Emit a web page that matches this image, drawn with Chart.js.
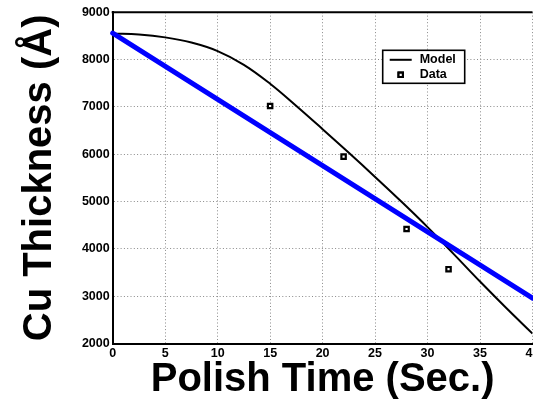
<!DOCTYPE html>
<html>
<head>
<meta charset="utf-8">
<script src="https://cdn.jsdelivr.net/npm/chart.js@4/dist/chart.umd.min.js"></script>
<style>
  html, body { margin: 0; padding: 0; background: #fff; overflow: hidden; }
  #wrap { width: 533px; height: 404px; overflow: hidden; position: relative; }
  canvas { display: block; }
</style>
</head>
<body>
<div id="wrap"><canvas id="chart" width="560" height="404"></canvas></div>
<script>
// Axis ticks
const xTicks = [0, 5, 10, 15, 20, 25, 30, 35, 40];
const yTicks = [2000, 3000, 4000, 5000, 6000, 7000, 8000, 9000];

// Model curve: Cu thickness (Å) vs polish time (s)
const modelTime = [0, 2.5, 5, 7.5, 10, 12.5, 15, 17.5, 20, 22.5, 25, 27.5, 30, 32.5, 35, 37.5, 40];
const modelThickness = [8550, 8530, 8470, 8360, 8180, 7890, 7490, 7020, 6530, 6030, 5520, 5000, 4460, 3890, 3310, 2750, 2210];

// Measured points
const dataTime = [15, 22, 28, 32];
const dataThickness = [7020, 5950, 4420, 3570];

// Straight blue line
const lineTime = [0, 40];
const lineThickness = [8560, 2960];

const FONT = "'Liberation Sans', Arial, Helvetica, sans-serif";
const toXY = (xs, ys) => xs.map((x, i) => ({ x: x, y: ys[i] }));

// Frame line along the top of the plot area
const topFrame = {
  id: 'topFrame',
  beforeDatasetsDraw(chart) {
    const { ctx, chartArea: a } = chart;
    ctx.save();
    ctx.strokeStyle = '#000';
    ctx.lineWidth = 2;
    ctx.beginPath();
    ctx.moveTo(a.left - 1, a.top);
    ctx.lineTo(a.right, a.top);
    ctx.stroke();
    ctx.restore();
  }
};

// Boxed legend inside the plot area
const boxLegend = {
  id: 'boxLegend',
  afterDraw(chart) {
    const { ctx, chartArea: a } = chart;
    const model = chart.data.datasets[2];
    const pts = chart.data.datasets[0];
    const bx = a.left + 270, by = a.top + 38, bw = 82, bh = 33;
    ctx.save();
    ctx.fillStyle = '#fff';
    ctx.fillRect(bx, by, bw, bh);
    ctx.strokeStyle = '#000';
    ctx.lineWidth = 1.6;
    ctx.strokeRect(bx, by, bw, bh);

    ctx.font = 'bold 12.5px ' + FONT;
    ctx.fillStyle = '#000';
    ctx.textBaseline = 'middle';
    ctx.textAlign = 'left';

    const row1 = by + 9.5, row2 = by + 24.5;
    ctx.strokeStyle = model.borderColor;
    ctx.lineWidth = model.borderWidth;
    ctx.beginPath();
    ctx.moveTo(bx + 7, row1);
    ctx.lineTo(bx + 29, row1);
    ctx.stroke();
    ctx.fillText(model.label, bx + 37, row1);

    Chart.helpers.drawPoint(ctx, {
      pointStyle: pts.pointStyle,
      radius: pts.pointRadius,
      borderWidth: pts.pointBorderWidth,
      rotation: 0
    }, bx + 18, row2);
    ctx.fillStyle = pts.pointBackgroundColor;
    ctx.strokeStyle = pts.pointBorderColor;
    ctx.lineWidth = pts.pointBorderWidth;
    ctx.fill();
    ctx.stroke();
    ctx.fillStyle = '#000';
    ctx.fillText(pts.label, bx + 37, row2);
    ctx.restore();
  }
};

// Dotted grey grid, solid black axis lines
const gridStyle = { color: '#8a8a8a', lineWidth: 1, drawTicks: false };
const axisBorder = { display: true, color: '#000', width: 2, dash: [1, 2.3] };

new Chart(document.getElementById('chart'), {
  type: 'line',
  data: {
    datasets: [
      {
        label: 'Data',
        data: toXY(dataTime, dataThickness),
        showLine: false,
        pointStyle: 'rect',
        pointRadius: 3.1,
        pointBorderWidth: 2.2,
        pointBorderColor: '#000',
        pointBackgroundColor: '#fff',
        order: 0
      },
      {
        label: 'Line',
        data: toXY(lineTime, lineThickness),
        borderColor: '#0000ff',
        borderWidth: 5,
        borderCapStyle: 'round',
        pointRadius: 0,
        clip: false,
        order: 1
      },
      {
        label: 'Model',
        data: toXY(modelTime, modelThickness),
        borderColor: '#000',
        borderWidth: 2,
        pointRadius: 0,
        tension: 0.4,
        order: 2
      }
    ]
  },
  options: {
    responsive: false,
    animation: false,
    devicePixelRatio: 1,
    layout: { padding: { top: 12.3, right: 27.5, left: 0, bottom: 0 } },
    plugins: { legend: { display: false }, tooltip: { enabled: false } },
    scales: {
      x: {
        type: 'linear',
        min: xTicks[0],
        max: xTicks[xTicks.length - 1],
        afterBuildTicks: s => { s.ticks = xTicks.map(v => ({ value: v })); },
        afterFit: s => { s.height = 60.5; },
        grid: gridStyle,
        border: axisBorder,
        ticks: {
          padding: 3,
          color: '#000',
          maxRotation: 0,
          font: { family: FONT, size: 12.5, weight: 'bold' },
          callback: v => String(v)
        },
        title: {
          display: true,
          text: 'Polish Time (Sec.)',
          color: '#000',
          padding: { top: 0, bottom: 0 },
          font: { family: FONT, size: 40, weight: 'bold', lineHeight: 1.2 }
        }
      },
      y: {
        type: 'linear',
        min: yTicks[0],
        max: yTicks[yTicks.length - 1],
        afterBuildTicks: s => { s.ticks = yTicks.map(v => ({ value: v })); },
        afterFit: s => { s.width = 112.7; },
        grid: gridStyle,
        border: axisBorder,
        ticks: {
          padding: 3,
          color: '#000',
          font: { family: FONT, size: 12.5, weight: 'bold' },
          callback: v => String(v)
        },
        title: {
          display: true,
          text: 'Cu Thickness (Å)',
          color: '#000',
          padding: { top: 16, bottom: 0 },
          font: { family: FONT, size: 40, weight: 'bold', lineHeight: 1.2 }
        }
      }
    }
  },
  plugins: [topFrame, boxLegend]
});
</script>
</body>
</html>
